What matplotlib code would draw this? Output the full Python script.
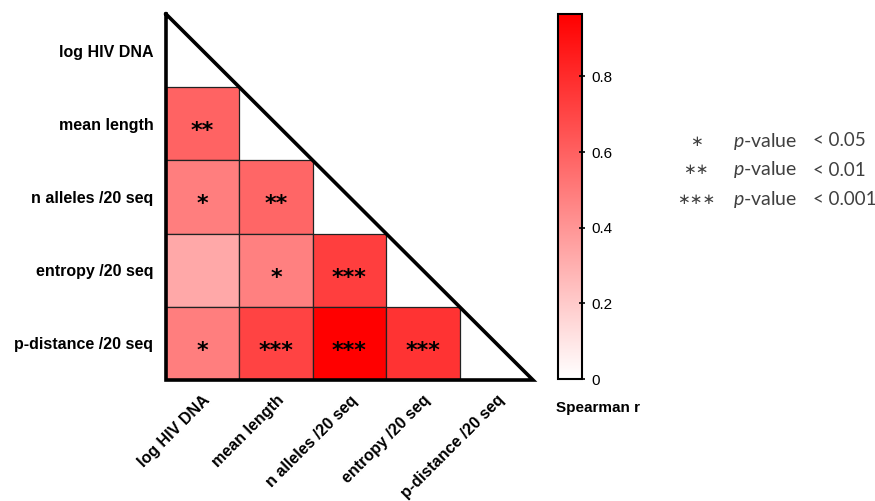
import numpy as np
import matplotlib.pyplot as plt
from matplotlib.colors import LinearSegmentedColormap, Normalize
from matplotlib.patches import Rectangle
import matplotlib.cm as cm

plt.rcParams['font.family'] = ['Liberation Sans', 'DejaVu Sans']
plt.rcParams['mathtext.fontset'] = 'custom'
plt.rcParams['mathtext.rm'] = 'Lato'
plt.rcParams['mathtext.it'] = 'Lato:italic'

# variables (rows top to bottom, columns left to right)
labels = ["log HIV DNA", "mean length", "n alleles /20 seq",
          "entropy /20 seq", "p-distance /20 seq"]

# lower-triangle Spearman r, row by row
r_mean_length = [0.59]
r_n_alleles = [0.49, 0.58]
r_entropy = [0.33, 0.48, 0.73]
r_p_distance = [0.49, 0.71, 0.965, 0.77]

# significance stars, same layout
s_mean_length = ["**"]
s_n_alleles = ["*", "**"]
s_entropy = ["", "*", "***"]
s_p_distance = ["*", "***", "***", "***"]

cbar_ticks = [0, 0.2, 0.4, 0.6, 0.8]
vmax = 0.965

n = len(labels)
rows_r = [[], r_mean_length, r_n_alleles, r_entropy, r_p_distance]
rows_s = [[], s_mean_length, s_n_alleles, s_entropy, s_p_distance]

cmap = LinearSegmentedColormap.from_list("wr", ["#ffffff", "#ff0000"])
norm = Normalize(vmin=0, vmax=vmax)

fig = plt.figure(figsize=(8.75, 5.01), dpi=100)
ax = fig.add_axes([0.1897, 0.2415, 0.4194, 0.7305])

# cells of the lower triangle
for i, vals in enumerate(rows_r):
    for j, v in enumerate(vals):
        ax.add_patch(Rectangle((j, i), 1, 1, facecolor=cmap(norm(v)),
                               edgecolor="#222222", linewidth=0.9))
for i, stars in enumerate(rows_s):
    for j, s in enumerate(stars):
        if s:
            ax.text(j + 0.5, i + 0.6, s, ha="center", va="center",
                    fontsize=16, fontweight="bold", color="black",
                    family="DejaVu Sans")

ax.set_xlim(0, n)
ax.set_ylim(n, 0)

# triangle outline
ax.plot([0, 0, n, 0], [0, n, n, 0], color="black", lw=2.6,
        solid_joinstyle="miter", clip_on=False, zorder=5)

for sp in ax.spines.values():
    sp.set_visible(False)
ax.set_xticks(np.arange(n) + 0.5)
ax.set_yticks(np.arange(n) + 0.5)
ax.set_xticklabels(labels, rotation=45, ha="right", va="top",
                   rotation_mode="anchor", fontsize=11.5, fontweight="bold")
ax.set_yticklabels(labels, fontsize=11.5, fontweight="bold")
ax.tick_params(length=0, pad=9)

# colorbar
cax = fig.add_axes([0.6377, 0.2435, 0.0274, 0.7285])
sm = cm.ScalarMappable(norm=norm, cmap=cmap)
cb = fig.colorbar(sm, cax=cax, ticks=cbar_ticks)
cb.outline.set_linewidth(1.5)
cb.ax.set_yticklabels(["0", "0.2", "0.4", "0.6", "0.8"])
cb.ax.tick_params(labelsize=11, length=4, width=1.2, direction="inout", pad=5)
fig.text(0.636, 0.185, "Spearman r", fontsize=11, fontweight="bold",
         ha="left", va="center")

# p-value legend
legend_stars = ["\u2217", "\u2217\u2217", "\u2217\u2217\u2217"]
legend_thr = ["< 0.05", "< 0.01", "< 0.001"]
for k in range(3):
    y = 1 - (141 + 29 * k) / 501
    fig.text(696 / 875, y, legend_stars[k], ha="center", va="center",
             fontsize=11, color="#404040", family="DejaVu Sans")
    fig.text(733 / 875, y, r"$\mathit{p}$-value", ha="left", va="center",
             fontsize=14, color="#404040", family="Lato")
    fig.text(813 / 875, y, legend_thr[k], ha="left", va="center",
             fontsize=13.5, color="#404040", family="Lato")

fig.savefig("out.png", dpi=100)
